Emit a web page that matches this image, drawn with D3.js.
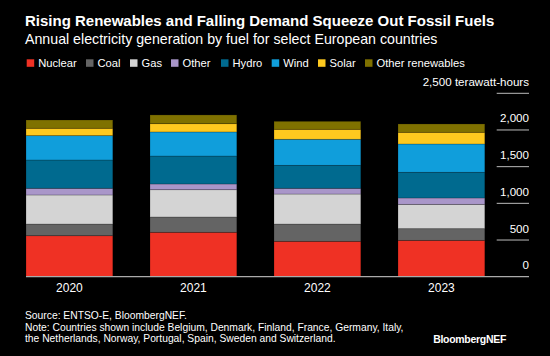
<!DOCTYPE html>
<html><head><meta charset="utf-8">
<script src="https://cdn.jsdelivr.net/npm/d3@7"></script>
<style>
html,body{margin:0;padding:0;background:#000;}
svg{display:block;font-family:"Liberation Sans",Arial,sans-serif;}
</style></head>
<body>
<svg id="c" width="550" height="356"></svg>
<script>
const years = ["2020","2021","2022","2023"];
const fuels = ["Nuclear","Coal","Gas","Other","Hydro","Wind","Solar","Other renewables"];
const colors = ["#ef3124","#646464","#d4d4d4","#a996c9","#006a8f","#109edb","#fec91f","#7f7100"];
const nuclear = [559, 605, 482, 495];
const coal = [159, 209, 236, 160];
const gas = [396, 372, 409, 331];
const other = [91, 78, 78, 87];
const hydro = [386, 381, 313, 350];
const wind = [332, 328, 355, 386];
const solar = [100, 113, 136, 159];
const otherRenewables = [113, 119, 109, 114];
const yTicks = [0, 500, 1000, 1500, 2000, 2500];

const seriesVals = [nuclear, coal, gas, other, hydro, wind, solar, otherRenewables];
const table = years.map((y,i)=>{const o={year:y}; fuels.forEach((f,j)=>o[f]=seriesVals[j][i]); return o;});
const stack = d3.stack().keys(fuels)(table);

const svg = d3.select("#c");
const x = d3.scaleBand().domain(years).range([26, 484.8]).paddingInner(0.3).paddingOuter(0);
const y = d3.scaleLinear().domain([0, 2500]).range([276.7, 93.3]);
const color = d3.scaleOrdinal().domain(fuels).range(colors);

// title
svg.append("text").attr("x",25).attr("y",26).attr("fill","#fff")
  .attr("font-size",15).attr("font-weight","bold").text("Rising Renewables and Falling Demand Squeeze Out Fossil Fuels");
svg.append("text").attr("x",25).attr("y",43.5).attr("fill","#fff")
  .attr("font-size",14.2).text("Annual electricity generation by fuel for select European countries");

// legend
const legX = [26.7, 86, 130, 171, 221, 271.7, 318, 365];
const leg = svg.append("g");
fuels.forEach((f,i)=>{
  leg.append("rect").attr("x",legX[i]).attr("y",59.3).attr("width",7.5).attr("height",7.5).attr("fill",colors[i]);
  leg.append("text").attr("x",legX[i]+11.5).attr("y",66.8).attr("fill","#fff").attr("font-size",11.2).text(f);
});

// gridlines + y labels
const gx0 = 496.7, gx1 = 529;
yTicks.forEach(t=>{
  if (t>0) svg.append("line").attr("x1",gx0).attr("x2",gx1).attr("y1",y(t)).attr("y2",y(t))
    .attr("stroke", "#bbb").attr("stroke-width",1);
  svg.append("text").attr("x",gx1).attr("y",y(t)-7.5).attr("text-anchor","end").attr("fill","#fff")
    .attr("font-size",11.6).text(t===2500 ? "2,500 terawatt-hours" : d3.format(",")(t));
});

// bars
svg.append("g").selectAll("g").data(stack).join("g").attr("fill",d=>color(d.key))
  .selectAll("rect").data(d=>d).join("rect")
  .attr("x",d=>x(d.data.year)).attr("width",x.bandwidth())
  .attr("y",d=>y(d[1])).attr("height",d=>y(d[0])-y(d[1]))
  .attr("stroke","rgba(0,0,0,0.25)").attr("stroke-width",0.8);

// baseline
svg.append("line").attr("x1",26).attr("x2",gx1).attr("y1",y(0)).attr("y2",y(0))
  .attr("stroke","#aaa").attr("stroke-width",1.2);

// x labels
const xAxis = svg.append("g");
years.forEach(yr=>{
  xAxis.append("text").attr("x",x(yr)+x.bandwidth()/2).attr("y",292).attr("text-anchor","middle")
    .attr("fill","#fff").attr("font-size",12).text(yr);
});

// footer
const foot = ["Source: ENTSO-E, BloombergNEF.",
  "Note: Countries shown include Belgium, Denmark, Finland, France, Germany, Italy,",
  "the Netherlands, Norway, Portugal, Spain, Sweden and Switzerland."];
foot.forEach((t,i)=>svg.append("text").attr("x",25).attr("y",319+i*11.6).attr("fill","#fff")
  .attr("font-size",10.3).text(t));
svg.append("text").attr("x",506).attr("y",342.5).attr("text-anchor","end").attr("fill","#fff")
  .attr("font-size",10.5).attr("font-weight","bold").attr("letter-spacing",-0.3).text("BloombergNEF");
</script>
</body></html>
